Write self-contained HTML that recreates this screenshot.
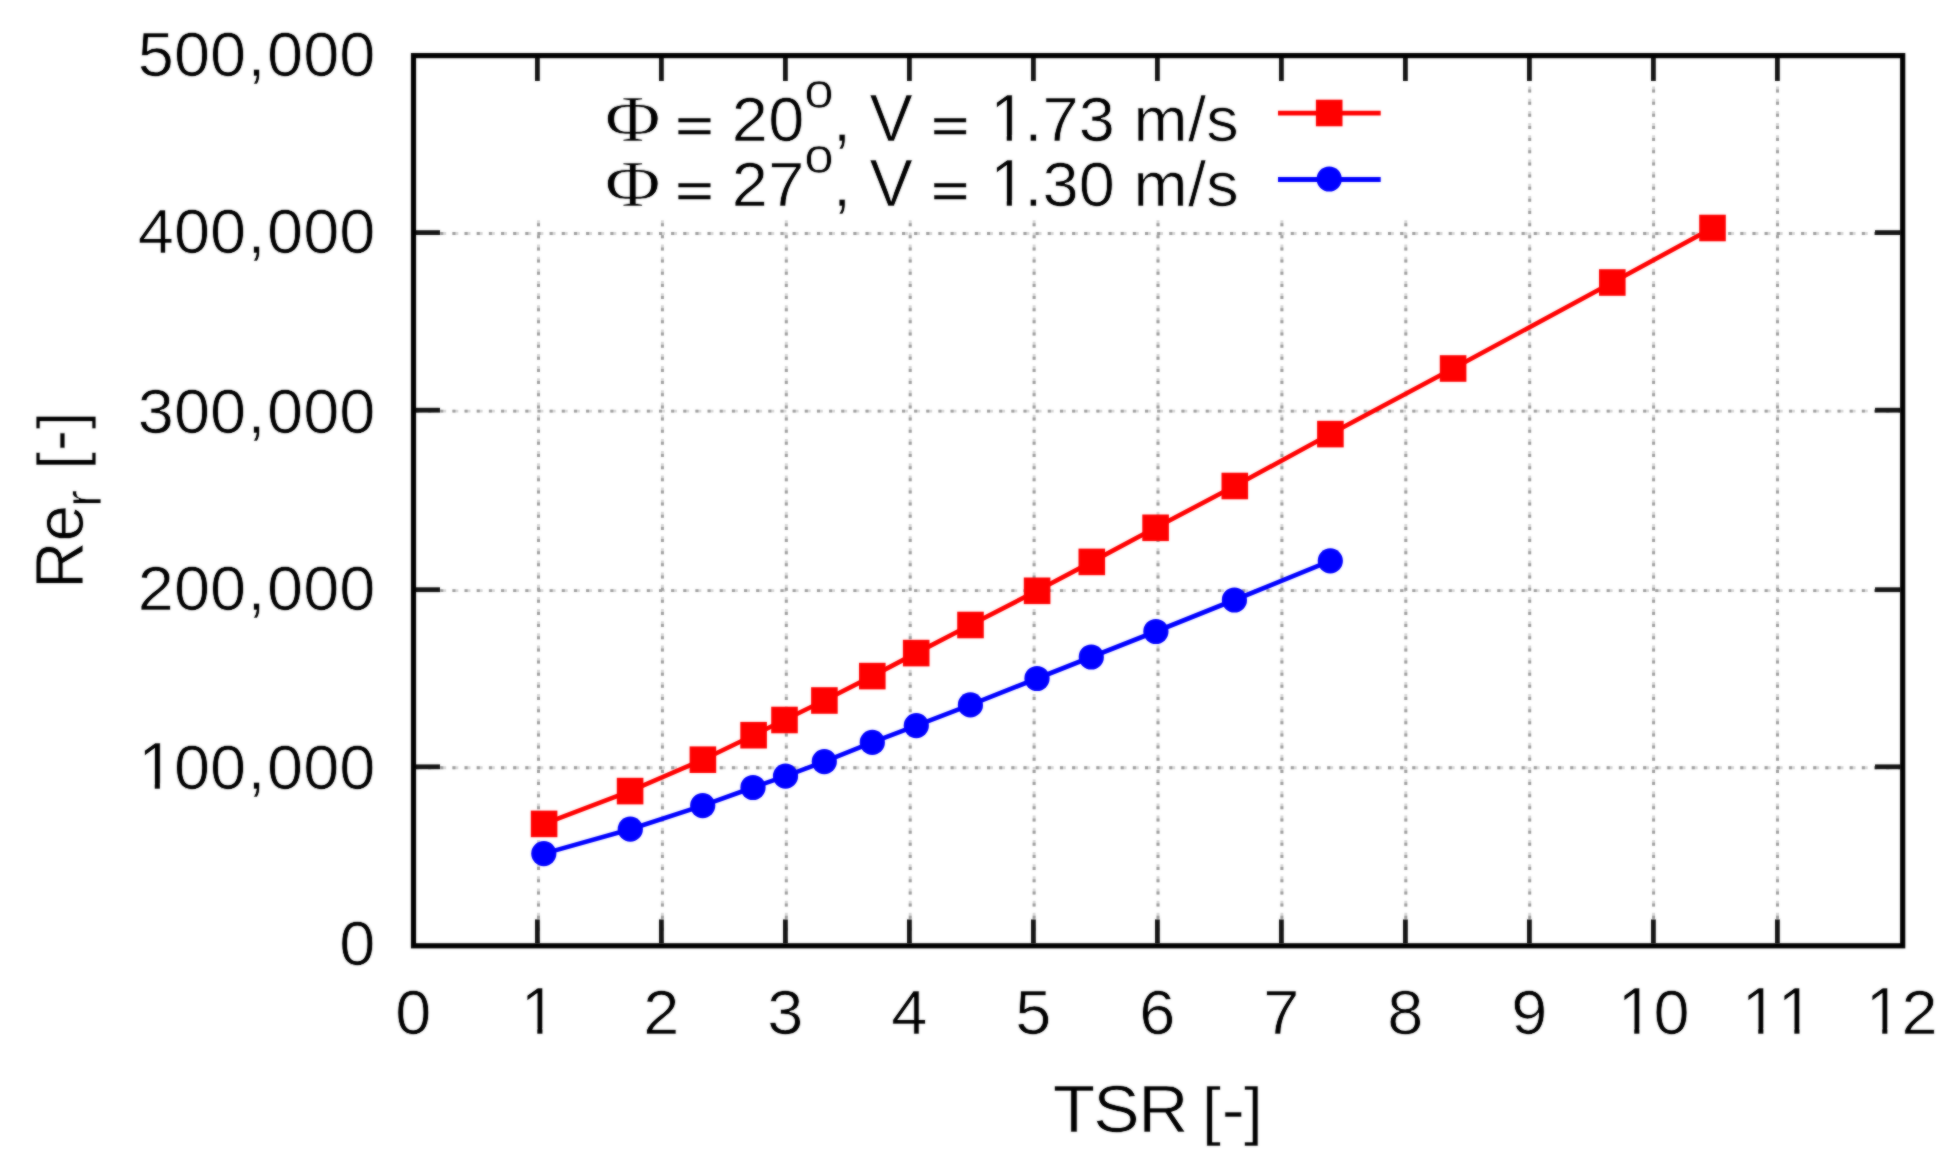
<!DOCTYPE html>
<html><head><meta charset="utf-8"><title>Re_r vs TSR</title>
<style>
html,body{margin:0;padding:0;background:#fff;}
body{width:1957px;height:1171px;overflow:hidden;}
svg{display:block;}
text{font-family:"Liberation Sans",Arial,Helvetica,sans-serif;fill:#000;stroke:#fff;stroke-width:0.7px;paint-order:fill stroke;white-space:pre;}
.eq{stroke:#000;stroke-width:0.4px;}
.sym{font-family:"Liberation Serif","Times New Roman",serif;}
</style></head><body>
<svg width="1957" height="1171" viewBox="0 0 1957 1171">
<defs><filter id="soft" x="0" y="0" width="1957" height="1171" filterUnits="userSpaceOnUse" color-interpolation-filters="sRGB"><feGaussianBlur in="SourceGraphic" stdDeviation="0.9" result="b"/><feComposite in="SourceGraphic" in2="b" operator="arithmetic" k1="0" k2="0.44999999999999996" k3="0.55" k4="0"/></filter></defs>
<rect width="1957" height="1171" fill="#fff"/>
<g filter="url(#soft)">
<rect width="1957" height="1171" fill="#fff"/>

<g stroke="#d6d6d6" stroke-width="2.9" stroke-dasharray="5.9 6.25" stroke-dashoffset="0" fill="none">
<line x1="538.5" y1="943" x2="538.5" y2="214.8"/>
<line x1="662.4" y1="943" x2="662.4" y2="214.8"/>
<line x1="786.3" y1="943" x2="786.3" y2="214.8"/>
<line x1="910.2" y1="943" x2="910.2" y2="214.8"/>
<line x1="1034.1" y1="943" x2="1034.1" y2="214.8"/>
<line x1="1158.0" y1="943" x2="1158.0" y2="214.8"/>
<line x1="1281.9" y1="943" x2="1281.9" y2="214.8"/>
<line x1="1405.8" y1="943" x2="1405.8" y2="214.8"/>
<line x1="1529.7" y1="943" x2="1529.7" y2="58"/>
<line x1="1653.6" y1="943" x2="1653.6" y2="58"/>
<line x1="1777.5" y1="943" x2="1777.5" y2="58"/>
<line x1="416" y1="767.7" x2="1900" y2="767.7"/>
<line x1="416" y1="590.6" x2="1900" y2="590.6"/>
<line x1="416" y1="411.1" x2="1900" y2="411.1"/>
<line x1="416" y1="233.5" x2="1900" y2="233.5"/>
</g>
<g stroke="#9a9a9a" stroke-width="2.9" stroke-dasharray="3 9.15" stroke-dashoffset="0" fill="none">
<line x1="538.5" y1="943" x2="538.5" y2="214.8"/>
<line x1="662.4" y1="943" x2="662.4" y2="214.8"/>
<line x1="786.3" y1="943" x2="786.3" y2="214.8"/>
<line x1="910.2" y1="943" x2="910.2" y2="214.8"/>
<line x1="1034.1" y1="943" x2="1034.1" y2="214.8"/>
<line x1="1158.0" y1="943" x2="1158.0" y2="214.8"/>
<line x1="1281.9" y1="943" x2="1281.9" y2="214.8"/>
<line x1="1405.8" y1="943" x2="1405.8" y2="214.8"/>
<line x1="1529.7" y1="943" x2="1529.7" y2="58"/>
<line x1="1653.6" y1="943" x2="1653.6" y2="58"/>
<line x1="1777.5" y1="943" x2="1777.5" y2="58"/>
<line x1="416" y1="767.7" x2="1900" y2="767.7"/>
<line x1="416" y1="590.6" x2="1900" y2="590.6"/>
<line x1="416" y1="411.1" x2="1900" y2="411.1"/>
<line x1="416" y1="233.5" x2="1900" y2="233.5"/>
</g>
<g stroke="#141414" stroke-width="4.8" fill="none">
<line x1="537.4" y1="943" x2="537.4" y2="919.4"/>
<line x1="537.4" y1="58" x2="537.4" y2="81"/>
<line x1="661.4" y1="943" x2="661.4" y2="919.4"/>
<line x1="661.4" y1="58" x2="661.4" y2="81"/>
<line x1="785.4" y1="943" x2="785.4" y2="919.4"/>
<line x1="785.4" y1="58" x2="785.4" y2="81"/>
<line x1="909.4" y1="943" x2="909.4" y2="919.4"/>
<line x1="909.4" y1="58" x2="909.4" y2="81"/>
<line x1="1033.4" y1="943" x2="1033.4" y2="919.4"/>
<line x1="1033.4" y1="58" x2="1033.4" y2="81"/>
<line x1="1157.4" y1="943" x2="1157.4" y2="919.4"/>
<line x1="1157.4" y1="58" x2="1157.4" y2="81"/>
<line x1="1281.4" y1="943" x2="1281.4" y2="919.4"/>
<line x1="1281.4" y1="58" x2="1281.4" y2="81"/>
<line x1="1405.4" y1="943" x2="1405.4" y2="919.4"/>
<line x1="1405.4" y1="58" x2="1405.4" y2="81"/>
<line x1="1529.4" y1="943" x2="1529.4" y2="919.4"/>
<line x1="1529.4" y1="58" x2="1529.4" y2="81"/>
<line x1="1653.4" y1="943" x2="1653.4" y2="919.4"/>
<line x1="1653.4" y1="58" x2="1653.4" y2="81"/>
<line x1="1777.4" y1="943" x2="1777.4" y2="919.4"/>
<line x1="1777.4" y1="58" x2="1777.4" y2="81"/>
<line x1="416" y1="766.8" x2="440" y2="766.8"/>
<line x1="1900" y1="766.8" x2="1875" y2="766.8"/>
<line x1="416" y1="589.7" x2="440" y2="589.7"/>
<line x1="1900" y1="589.7" x2="1875" y2="589.7"/>
<line x1="416" y1="410.2" x2="440" y2="410.2"/>
<line x1="1900" y1="410.2" x2="1875" y2="410.2"/>
<line x1="416" y1="232.6" x2="440" y2="232.6"/>
<line x1="1900" y1="232.6" x2="1875" y2="232.6"/>
</g>
<rect x="413.5" y="55.6" width="1489.2" height="890.2" fill="none" stroke="#000" stroke-width="5.2"/>
<polyline points="544.1,823.9 630.1,791.1 702.9,759.7 753.6,735.2 784.5,720.0 824.4,700.5 872.3,676.1 916.2,653.1 970.5,625.0 1037.1,590.8 1091.8,561.9 1155.6,527.8 1234.8,486.0 1330.4,434.1 1453.1,368.5 1612.3,282.5 1712.5,228.0" fill="none" stroke="#ff0000" stroke-width="4.6" stroke-linejoin="round"/>
<rect x="530.80" y="810.60" width="26.6" height="26.6" fill="#ff0000"/>
<rect x="616.80" y="777.80" width="26.6" height="26.6" fill="#ff0000"/>
<rect x="689.60" y="746.40" width="26.6" height="26.6" fill="#ff0000"/>
<rect x="740.30" y="721.90" width="26.6" height="26.6" fill="#ff0000"/>
<rect x="771.20" y="706.70" width="26.6" height="26.6" fill="#ff0000"/>
<rect x="811.10" y="687.20" width="26.6" height="26.6" fill="#ff0000"/>
<rect x="859.00" y="662.80" width="26.6" height="26.6" fill="#ff0000"/>
<rect x="902.90" y="639.80" width="26.6" height="26.6" fill="#ff0000"/>
<rect x="957.20" y="611.70" width="26.6" height="26.6" fill="#ff0000"/>
<rect x="1023.80" y="577.50" width="26.6" height="26.6" fill="#ff0000"/>
<rect x="1078.50" y="548.60" width="26.6" height="26.6" fill="#ff0000"/>
<rect x="1142.30" y="514.50" width="26.6" height="26.6" fill="#ff0000"/>
<rect x="1221.50" y="472.70" width="26.6" height="26.6" fill="#ff0000"/>
<rect x="1317.10" y="420.80" width="26.6" height="26.6" fill="#ff0000"/>
<rect x="1439.80" y="355.20" width="26.6" height="26.6" fill="#ff0000"/>
<rect x="1599.00" y="269.20" width="26.6" height="26.6" fill="#ff0000"/>
<rect x="1699.20" y="214.70" width="26.6" height="26.6" fill="#ff0000"/>
<polyline points="543.8,853.6 630.3,829.2 702.7,805.6 753.0,787.5 785.5,776.1 824.3,761.6 872.3,742.4 916.3,725.6 970.4,704.9 1037.0,678.5 1091.3,657.0 1155.9,631.5 1234.4,600.0 1330.3,560.8" fill="none" stroke="#0000ff" stroke-width="4.6" stroke-linejoin="round"/>
<circle cx="543.8" cy="853.6" r="12.6" fill="#0000ff"/>
<circle cx="630.3" cy="829.2" r="12.6" fill="#0000ff"/>
<circle cx="702.7" cy="805.6" r="12.6" fill="#0000ff"/>
<circle cx="753.0" cy="787.5" r="12.6" fill="#0000ff"/>
<circle cx="785.5" cy="776.1" r="12.6" fill="#0000ff"/>
<circle cx="824.3" cy="761.6" r="12.6" fill="#0000ff"/>
<circle cx="872.3" cy="742.4" r="12.6" fill="#0000ff"/>
<circle cx="916.3" cy="725.6" r="12.6" fill="#0000ff"/>
<circle cx="970.4" cy="704.9" r="12.6" fill="#0000ff"/>
<circle cx="1037.0" cy="678.5" r="12.6" fill="#0000ff"/>
<circle cx="1091.3" cy="657.0" r="12.6" fill="#0000ff"/>
<circle cx="1155.9" cy="631.5" r="12.6" fill="#0000ff"/>
<circle cx="1234.4" cy="600.0" r="12.6" fill="#0000ff"/>
<circle cx="1330.3" cy="560.8" r="12.6" fill="#0000ff"/>
<line x1="1278" y1="113.1" x2="1380.7" y2="113.1" stroke="#ff0000" stroke-width="4.8"/>
<rect x="1315.90" y="99.70" width="26.6" height="26.6" fill="#ff0000"/>
<line x1="1278" y1="179.5" x2="1380.7" y2="179.5" stroke="#0000ff" stroke-width="4.8"/>
<circle cx="1329.2" cy="179" r="12.6" fill="#0000ff"/>
<g id="y500" transform="translate(375.3,76.1) scale(1.03,1.0)"><text font-size="63" x="-230.58 -195.53 -160.49 -124.04 -105.13 -70.08 -35.04">500,000</text></g>
<g id="y400" transform="translate(375.3,252.9) scale(1.03,1.0)"><text font-size="63" x="-230.58 -195.53 -160.49 -124.04 -105.13 -70.08 -35.04">400,000</text></g>
<g id="y300" transform="translate(375.3,433.2) scale(1.03,1.0)"><text font-size="63" x="-230.58 -195.53 -160.49 -124.04 -105.13 -70.08 -35.04">300,000</text></g>
<g id="y200" transform="translate(375.3,610.1) scale(1.03,1.0)"><text font-size="63" x="-230.58 -195.53 -160.49 -124.04 -105.13 -70.08 -35.04">200,000</text></g>
<g id="y100" transform="translate(375.3,789.1) scale(1.03,1.0)"><g transform="translate(-230.26,0) scale(1,1.07)"><text font-size="63">1</text><rect x="3.15" y="-5.31" width="12.99" height="6.31" fill="#fff"/><rect x="21.11" y="-5.31" width="12.93" height="6.31" fill="#fff"/></g><text font-size="63" x="-195.53 -160.49 -124.04 -105.13 -70.08 -35.04">00,000</text></g>
<g id="y0" transform="translate(375.3,965.3) scale(1.03,1.0)"><text font-size="63" x="-35.04">0</text></g>
<g id="x0" transform="translate(413.4,1034) scale(1.03,1.0)"><text font-size="63" x="-17.52">0</text></g>
<g id="x1" transform="translate(537.4,1034) scale(1.03,1.0)"><g transform="translate(-16.23,0) scale(1,1.07)"><text font-size="63">1</text><rect x="3.15" y="-5.31" width="12.99" height="6.31" fill="#fff"/><rect x="21.11" y="-5.31" width="12.93" height="6.31" fill="#fff"/></g></g>
<g id="x2" transform="translate(661.4,1034) scale(1.03,1.0)"><text font-size="63" x="-17.52">2</text></g>
<g id="x3" transform="translate(785.4,1034) scale(1.03,1.0)"><text font-size="63" x="-17.52">3</text></g>
<g id="x4" transform="translate(909.4,1034) scale(1.03,1.0)"><text font-size="63" x="-17.52">4</text></g>
<g id="x5" transform="translate(1033.4,1034) scale(1.03,1.0)"><text font-size="63" x="-17.52">5</text></g>
<g id="x6" transform="translate(1157.4,1034) scale(1.03,1.0)"><text font-size="63" x="-17.52">6</text></g>
<g id="x7" transform="translate(1281.4,1034) scale(1.03,1.0)"><text font-size="63" x="-17.52">7</text></g>
<g id="x8" transform="translate(1405.4,1034) scale(1.03,1.0)"><text font-size="63" x="-17.52">8</text></g>
<g id="x9" transform="translate(1529.4,1034) scale(1.03,1.0)"><text font-size="63" x="-17.52">9</text></g>
<g id="x10" transform="translate(1653.4,1034) scale(1.03,1.0)"><g transform="translate(-34.73,0) scale(1,1.07)"><text font-size="63">1</text><rect x="3.15" y="-5.31" width="12.99" height="6.31" fill="#fff"/><rect x="21.11" y="-5.31" width="12.93" height="6.31" fill="#fff"/></g><text font-size="63" x="0.00">0</text></g>
<g id="x11" transform="translate(1777.4,1034) scale(1.03,1.0)"><g transform="translate(-34.73,0) scale(1,1.07)"><text font-size="63">1</text><rect x="3.15" y="-5.31" width="12.99" height="6.31" fill="#fff"/><rect x="21.11" y="-5.31" width="12.93" height="6.31" fill="#fff"/></g><g transform="translate(0.32,0) scale(1,1.07)"><text font-size="63">1</text><rect x="3.15" y="-5.31" width="12.99" height="6.31" fill="#fff"/><rect x="21.11" y="-5.31" width="12.93" height="6.31" fill="#fff"/></g></g>
<g id="x12" transform="translate(1901.4,1034) scale(1.03,1.0)"><g transform="translate(-34.73,0) scale(1,1.07)"><text font-size="63">1</text><rect x="3.15" y="-5.31" width="12.99" height="6.31" fill="#fff"/><rect x="21.11" y="-5.31" width="12.93" height="6.31" fill="#fff"/></g><text font-size="63" x="0.00">2</text></g>
<g id="xl" transform="translate(1158.2,1131.6) scale(1.07,1.0)"><text transform="translate(-98.55,0) scale(1,1.04)" font-size="65">T</text><text transform="translate(-60.73,0) scale(1,1.04)" font-size="65">S</text><text transform="translate(-18.54,0) scale(1,1.04)" font-size="65">R</text><text font-size="65" x="25.19"> </text><text transform="translate(40.80,0.9) scale(1,1.0)" font-size="65">[</text><text font-size="65" x="59.32">-</text><text transform="translate(79.93,0.9) scale(1,1.0)" font-size="65">]</text></g>
<g id="yl1" transform="translate(82.7,588.8) rotate(-90) scale(1.04,1.085)"><text font-size="63" x="0.03 45.57">Re</text></g>
<g id="yl2" transform="translate(100.8,507.0) rotate(-90) scale(1.0,1.04)"><text font-size="50" x="0.33">r</text></g>
<g id="yl3" transform="translate(82.7,469.9) rotate(-90) scale(1.0,1.04)"><text font-size="63" x="0.42">[</text><text transform="translate(18.84,-2.9) scale(1,1.0)" font-size="63">-</text><text font-size="63" x="40.73">]</text></g>
<g id="l0a" transform="translate(605,140.8) scale(1.15,1.0)"><text class="sym" font-size="66" x="0.03">Φ</text></g>
<g id="l0b" transform="translate(675.2,140.8) scale(1.03,1.0)"><text class="eq" transform="translate(0.17,1.5) scale(1,0.761)" font-size="63">=</text><text font-size="63" x="37.22 54.97 90.34"> 20</text></g>
<g id="l0c" transform="translate(804.5,108.30000000000001) scale(1.06,1.0)"><text font-size="50" x="-0.26">o</text></g>
<g id="l0d" transform="translate(832.9,140.8) scale(1.03,1.0)"><text font-size="63" x="0.08 17.75">, </text><text transform="translate(35.53,0) scale(1,1.06)" font-size="63">V</text><text font-size="63" x="77.83"> </text><text class="eq" transform="translate(95.59,1.5) scale(1,0.761)" font-size="63">=</text><text font-size="63" x="132.64"> </text><g transform="translate(152.65,0) scale(1,1.07)"><text font-size="63">1</text><rect x="3.15" y="-5.31" width="12.99" height="6.31" fill="#fff"/><rect x="21.11" y="-5.31" width="12.93" height="6.31" fill="#fff"/></g><text font-size="63" x="185.67 203.42 238.79 274.08 291.91 344.72 362.45">.73 m/s</text></g>
<g id="l1a" transform="translate(605,205.8) scale(1.15,1.0)"><text class="sym" font-size="66" x="0.03">Φ</text></g>
<g id="l1b" transform="translate(675.2,205.8) scale(1.03,1.0)"><text class="eq" transform="translate(0.17,1.5) scale(1,0.761)" font-size="63">=</text><text font-size="63" x="37.22 54.97 90.34"> 27</text></g>
<g id="l1c" transform="translate(804.5,173.3) scale(1.06,1.0)"><text font-size="50" x="-0.26">o</text></g>
<g id="l1d" transform="translate(832.9,205.8) scale(1.03,1.0)"><text font-size="63" x="0.08 17.75">, </text><text transform="translate(35.53,0) scale(1,1.06)" font-size="63">V</text><text font-size="63" x="77.83"> </text><text class="eq" transform="translate(95.59,1.5) scale(1,0.761)" font-size="63">=</text><text font-size="63" x="132.64"> </text><g transform="translate(152.65,0) scale(1,1.07)"><text font-size="63">1</text><rect x="3.15" y="-5.31" width="12.99" height="6.31" fill="#fff"/><rect x="21.11" y="-5.31" width="12.93" height="6.31" fill="#fff"/></g><text font-size="63" x="185.67 203.42 238.79 274.08 291.91 344.72 362.45">.30 m/s</text></g>
</g></svg></body></html>
